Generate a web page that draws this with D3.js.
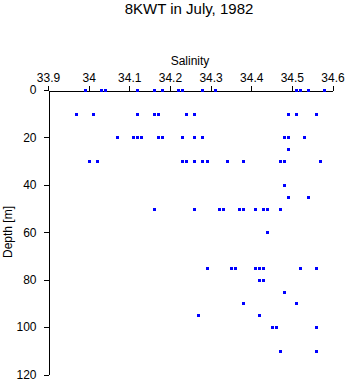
<!DOCTYPE html>
<html>
<head>
<meta charset="utf-8">
<script src="https://cdn.jsdelivr.net/npm/d3@7"></script>
<style>
  html, body { margin: 0; padding: 0; background: #fff; }
  svg text { font-family: "Liberation Sans", Arial, Helvetica, sans-serif; fill: #000; }
</style>
</head>
<body>
<svg id="chart" width="346" height="384"></svg>
<script>
const title = "8KWT in July, 1982";
const xLabel = "Salinity";
const yLabel = "Depth [m]";
const xTicks = [33.9, 34.0, 34.1, 34.2, 34.3, 34.4, 34.5, 34.6];
const yTicks = [0, 20, 40, 60, 80, 100, 120];

// observations: depth (m) and salinity
const depth = [
  0,0,0,0,0,0,0,0,0,0,0,0,0,0,
  10,10,10,10,10,10,10,10,10,10,
  20,20,20,20,20,20,20,20,20,20,20,20,
  25,
  30,30,30,30,30,30,30,30,30,30,30,30,
  40,
  45,45,
  50,50,50,50,50,50,50,50,50,50,
  60,
  75,75,75,75,75,75,75,75,
  80,80,
  85,
  90,90,
  95,95,
  100,100,100,
  110,110
];
const salinity = [
  33.99,34.03,34.04,34.12,34.16,34.18,34.22,34.23,34.28,34.31,34.51,34.52,34.54,34.58,
  33.97,34.01,34.12,34.16,34.17,34.24,34.26,34.49,34.51,34.56,
  34.07,34.11,34.12,34.13,34.17,34.18,34.23,34.26,34.28,34.48,34.49,34.53,
  34.49,
  34.00,34.02,34.23,34.24,34.26,34.28,34.29,34.34,34.38,34.47,34.48,34.57,
  34.48,
  34.49,34.54,
  34.16,34.26,34.32,34.33,34.37,34.38,34.41,34.43,34.44,34.47,
  34.44,
  34.29,34.35,34.36,34.41,34.42,34.43,34.52,34.56,
  34.42,34.43,
  34.48,
  34.38,34.51,
  34.27,34.42,
  34.45,34.46,34.56,
  34.47,34.56
];

const data = depth.map((d, i) => ({ depth: d, sal: salinity[i] }));

const svg = d3.select("#chart");

const x = d3.scaleLinear().domain([33.9, 34.6]).range([48, 332.5]);
const y = d3.scaleLinear().domain([0, 120]).range([90, 374.5]);

// title
svg.append("text")
  .attr("x", 189).attr("y", 14)
  .attr("text-anchor", "middle")
  .style("font-size", "15px")
  .text(title);

// x label
svg.append("text")
  .attr("x", 190).attr("y", 65)
  .attr("text-anchor", "middle")
  .style("font-size", "12px")
  .text(xLabel);

// y label
svg.append("text")
  .attr("transform", "translate(12,232) rotate(-90)")
  .attr("text-anchor", "middle")
  .style("font-size", "12px")
  .text(yLabel);

const fmtX = d => d3.format("")(+d.toFixed(1));

const gx = svg.append("g")
  .attr("transform", "translate(0,90.5)")
  .call(d3.axisTop(x).tickValues(xTicks).tickFormat(fmtX).tickSize(5).tickSizeOuter(0).tickPadding(4));

const gy = svg.append("g")
  .attr("transform", "translate(48.5,0)")
  .call(d3.axisLeft(y).tickValues(yTicks).tickSize(5).tickSizeOuter(0).tickPadding(7));

[gx, gy].forEach(g => {
  g.selectAll("path, line").attr("stroke", "#000").attr("stroke-width", 1).attr("shape-rendering", "crispEdges");
  g.selectAll("text").style("font-size", "12px").attr("fill", "#000");
});

// points
svg.append("g")
  .selectAll("rect")
  .data(data)
  .join("rect")
  .attr("x", d => Math.round(x(d.sal)) - 1.5)
  .attr("y", d => Math.round(y(d.depth)) - 1.5)
  .attr("width", 3)
  .attr("height", 3)
  .attr("fill", "#0000ff")
  .attr("shape-rendering", "crispEdges");
</script>
</body>
</html>
